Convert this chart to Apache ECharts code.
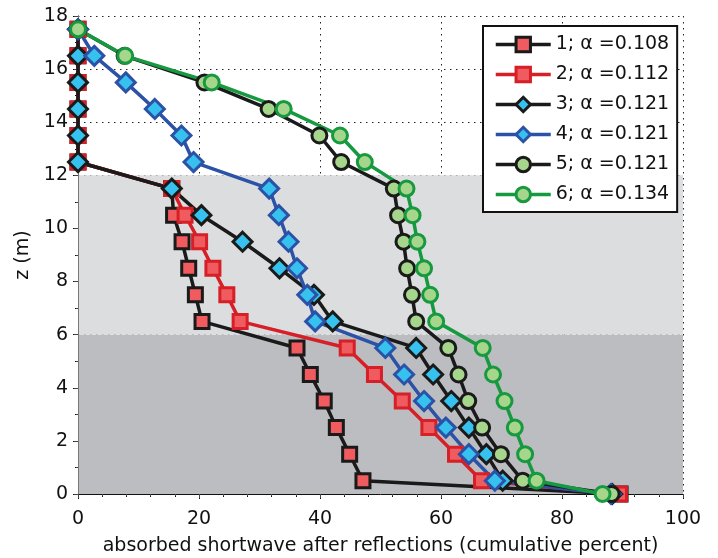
<!DOCTYPE html>
<html lang="en">
<head>
  <meta charset="utf-8">
  <script src="https://cdn.jsdelivr.net/npm/echarts@6.0.0/dist/echarts.min.js"></script>
  <style>html,body{margin:0;padding:0;background:#fff;}</style>
</head>
<body>
  <div id="profileChart" style="width:718px;height:558px;"></div>
  <script type="text/javascript">
    // depth levels (m) shared by all curves
    var depth = [17.5, 16.5, 15.5, 14.5, 13.5, 12.5, 11.5, 10.5, 9.5, 8.5, 7.5, 6.5, 5.5, 4.5, 3.5, 2.5, 1.5, 0.5, 0];

    var run1 = [0, 0, 0, 0, 0, 0, 15.5, 15.8, 17.2, 18.3, 19.4, 20.5, 36.2, 38.4, 40.7, 42.7, 44.9, 47.1, 89.6];
    var run2 = [0, 0, 0, 0, 0, 0, 15.5, 17.7, 20.1, 22.3, 24.6, 26.8, 44.5, 49.0, 53.6, 58.0, 62.4, 66.7, 89.5];
    var run3 = [0, 0, 0, 0, 0, 0, 15.5, 20.4, 27.2, 33.3, 39.0, 42.1, 55.9, 58.7, 61.7, 64.6, 67.5, 70.2, 88.3];
    var run4 = [0, 2.7, 7.9, 12.7, 17.1, 19.1, 31.6, 33.2, 34.8, 36.2, 37.9, 39.2, 50.8, 53.9, 57.2, 60.8, 64.6, 68.9, 88.1];
    var run5 = [0, 7.7, 20.9, 31.5, 39.9, 43.5, 52.2, 52.9, 53.8, 54.4, 55.2, 55.9, 61.2, 62.9, 64.5, 66.8, 69.9, 73.5, 88.2];
    var run6 = [0, 7.8, 22.1, 34.0, 43.3, 47.4, 54.3, 55.3, 56.1, 57.2, 58.2, 59.2, 66.9, 68.6, 70.5, 72.2, 73.9, 75.8, 86.7];

    var runNames = ['1; α =0.108', '2; α =0.112', '3; α =0.121', '4; α =0.121', '5; α =0.121', '6; α =0.134'];

    // shaded depth layers
    var layers = [[0, 6, '#bcbdc1'], [6, 12, '#dcdddf']];

    var font = 'DejaVu Sans, Liberation Sans, Arial, sans-serif';

    function pairs(xs) {
        return xs.map(function (x, i) { return [x, depth[i]]; });
    }

    function runSeries(name, xs, lineColor, symbol, size, borderColor, fill) {
        return {
            name: name,
            type: 'line',
            data: pairs(xs),
            symbol: symbol,
            symbolSize: size,
            z: 3,
            lineStyle: { color: lineColor, width: 3.5 },
            itemStyle: { color: fill, borderColor: borderColor, borderWidth: 3 },
            emphasis: { disabled: true },
            animation: false
        };
    }

    var chart = echarts.init(document.getElementById('profileChart'));

    var option = {
        animation: false,
        grid: { left: 78, right: 35, top: 16, bottom: 64, containLabel: false, outerBoundsMode: 'none' },
        legend: {
            orient: 'vertical',
            left: 483,
            top: 26,
            padding: [9, 8, 8, 11],
            itemGap: 11,
            itemWidth: 55,
            itemHeight: 18,
            backgroundColor: '#fff',
            borderColor: '#111',
            borderWidth: 2,
            borderRadius: 0,
            lineStyle: { width: 3.5 },
            itemStyle: { borderWidth: 3 },
            textStyle: { fontFamily: font, fontSize: 19, color: '#111', padding: [0, 0, 0, 0] },
            data: runNames
        },
        xAxis: [{
            type: 'value',
            min: 0, max: 100, interval: 20,
            z: 1,
            name: 'absorbed shortwave after reflections (cumulative percent)',
            nameLocation: 'middle',
            nameGap: 43,
            nameTextStyle: { fontFamily: font, fontSize: 19, color: '#111' },
            axisLine: { show: true, lineStyle: { color: '#111', width: 1 } },
            axisTick: { show: true, inside: false, length: 5, lineStyle: { color: '#111' } },
            minorTick: { show: true, splitNumber: 5, length: 3, lineStyle: { color: '#111' } },
            axisLabel: { fontFamily: font, fontSize: 19, color: '#111', margin: 16 },
            splitLine: { show: true, lineStyle: { color: '#222', type: [1.5, 4.5], width: 1 } }
        }, {
            type: 'value', position: 'top',
            min: 0, max: 100, interval: 20, z: 1,
            axisLine: { show: false },
            axisTick: { show: true, inside: true, length: 4, lineStyle: { color: '#444' } },
            minorTick: { show: true, splitNumber: 5, length: 2, lineStyle: { color: '#444' } },
            axisLabel: { show: false },
            splitLine: { show: false }
        }],
        yAxis: [{
            type: 'value',
            min: 0, max: 18, interval: 2,
            z: 1,
            name: 'z (m)',
            nameLocation: 'middle',
            nameGap: 44,
            nameRotate: 90,
            nameTextStyle: { fontFamily: font, fontSize: 19, color: '#111' },
            axisLine: { show: true, lineStyle: { color: '#111', width: 1 } },
            axisTick: { show: true, inside: false, length: 5, lineStyle: { color: '#111' } },
            minorTick: { show: true, splitNumber: 2, length: 3, lineStyle: { color: '#111' } },
            axisLabel: { fontFamily: font, fontSize: 19, color: '#111', margin: 10 },
            splitLine: { show: true, lineStyle: { color: '#222', type: [1.5, 4.5], width: 1 } }
        }, {
            type: 'value', position: 'right',
            min: 0, max: 18, interval: 2, z: 1,
            axisLine: { show: true, lineStyle: { color: '#777', width: 1 } },
            axisTick: { show: true, inside: true, length: 4, lineStyle: { color: '#444' } },
            minorTick: { show: true, splitNumber: 2, length: 2, lineStyle: { color: '#444' } },
            axisLabel: { show: false },
            splitLine: { show: false }
        }],
        series: [
            {
                name: 'layers',
                type: 'line',
                data: [],
                z: 0,
                silent: true,
                markArea: {
                    silent: true,
                    itemStyle: { opacity: 1 },
                    data: layers.map(function (l) {
                        return [{ yAxis: l[0], itemStyle: { color: l[2] } }, { yAxis: l[1] }];
                    })
                }
            },
            runSeries(runNames[0], run1, '#1a1a1a', 'rect', 14, '#1a1a1a', '#ef5b5e'),
            runSeries(runNames[1], run2, '#d61f26', 'rect', 14, '#d61f26', '#ef5b5e'),
            runSeries(runNames[2], run3, '#1a1a1a', 'diamond', 19, '#1a1a1a', '#37c1ef'),
            runSeries(runNames[3], run4, '#2b52a6', 'diamond', 19, '#2b52a6', '#37c1ef'),
            runSeries(runNames[4], run5, '#1a1a1a', 'circle', 15, '#1a1a1a', '#a6d58c'),
            runSeries(runNames[5], run6, '#17993f', 'circle', 15, '#17993f', '#a6d58c')
        ]
    };

    chart.setOption(option);
  </script>
</body>
</html>
